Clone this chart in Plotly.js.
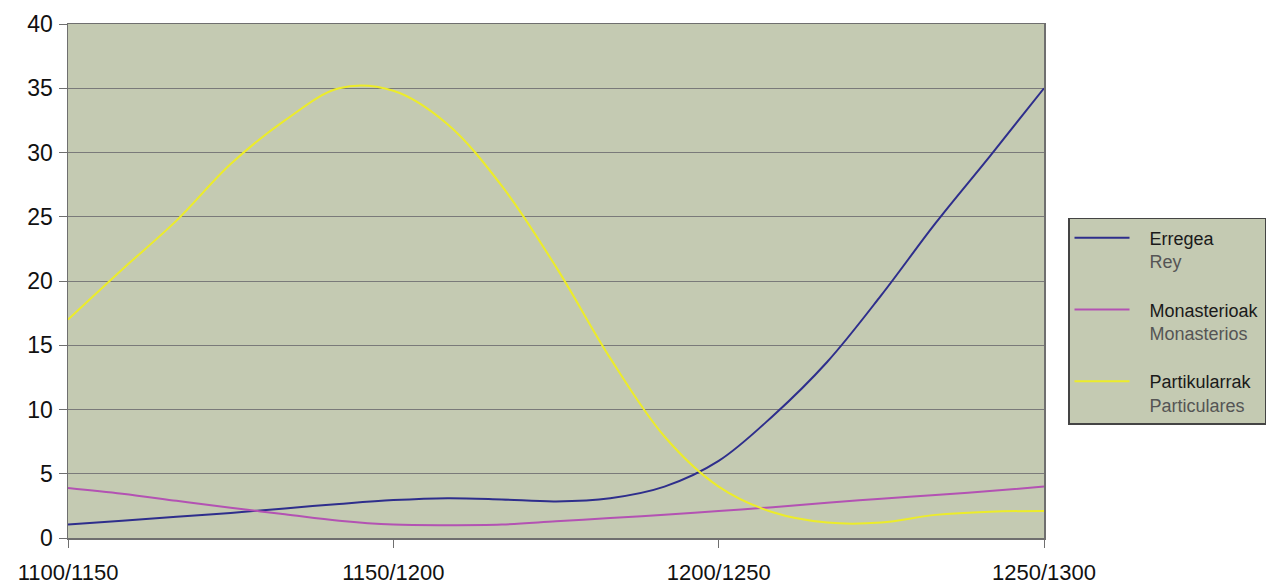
<!DOCTYPE html>
<html>
<head>
<meta charset="utf-8">
<script src="https://cdn.plot.ly/plotly-3.0.1.min.js"></script>
<style>
  html, body { margin: 0; padding: 0; background: #ffffff; }
  #chart { width: 1275px; height: 585px; }
</style>
</head>
<body>
<div id="chart"></div>
<script>
// Period midpoints (years) sampled along each curve
const years = [1125, 1133.33, 1141.67, 1150, 1158.33, 1166.67, 1175, 1183.33, 1191.67, 1200,
               1208.33, 1216.67, 1225, 1233.33, 1241.67, 1250, 1258.33, 1266.67, 1275];
const tickYears = [1125, 1175, 1225, 1275];
const tickLabels = ['1100/1150', '1150/1200', '1200/1250', '1250/1300'];

const erregea =       [1.05, 1.35, 1.65, 1.95, 2.3, 2.65, 2.95, 3.1, 3.0, 2.85,
                       3.1, 4.0, 6.0, 9.5, 13.7, 18.9, 24.5, 29.7, 35.0];
const monasterioak =  [3.9, 3.45, 2.9, 2.35, 1.85, 1.35, 1.05, 1.0, 1.05, 1.3,
                       1.55, 1.8, 2.1, 2.4, 2.75, 3.05, 3.35, 3.65, 4.0];
const partikularrak = [17.0, 20.9, 24.7, 29.1, 32.5, 35.0, 34.8, 32.2, 27.4, 21.1,
                       14.0, 7.9, 4.0, 2.0, 1.2, 1.2, 1.8, 2.05, 2.1];

const namesEu = ['Erregea', 'Monasterioak', 'Partikularrak'];
const namesEs = ['Rey', 'Monasterios', 'Particulares'];
const seriesData = [erregea, monasterioak, partikularrak];
const colors = ['#2e2e8c', '#b352b3', '#ecec2a'];

const pad = '\u00A0\u00A0\u00A0';
const traces = seriesData.map((vals, i) => ({
  type: 'scatter',
  mode: 'lines',
  x: years,
  y: vals,
  name: pad + namesEu[i] + '<br>' + pad + '<span style="color:#555555">' + namesEs[i] + '</span>',
  legendgroup: 'g' + i,
  line: { color: colors[i], width: 2, shape: 'spline', smoothing: 1 },
  hoverinfo: 'skip'
}));

const layout = {
  width: 1275,
  height: 585,
  margin: { l: 68, r: 231, t: 24, b: 47, autoexpand: false },
  paper_bgcolor: '#ffffff',
  plot_bgcolor: '#c4cab2',
  font: { family: 'Liberation Sans, Arial, sans-serif', color: '#111111' },
  showlegend: true,
  legend: {
    x: 1.0246, xanchor: 'left',
    y: 0.6226, yanchor: 'top',
    bgcolor: '#c4cab2',
    bordercolor: '#444444',
    borderwidth: 1.5,
    font: { size: 18, color: '#1a1a1a' },
    tracegroupgap: 22,
    valign: 'top',
    itemwidth: 55
  },
  xaxis: {
    range: [1125, 1275],
    tickmode: 'array',
    tickvals: tickYears,
    ticktext: tickLabels,
    showgrid: false,
    zeroline: false,
    showline: true,
    linecolor: '#6f6f6f',
    linewidth: 1.5,
    mirror: true,
    ticks: 'outside',
    ticklen: 8,
    tickcolor: '#6f6f6f',
    ticklabelstandoff: 6,
    tickfont: { size: 22, color: '#111111' }
  },
  yaxis: {
    range: [0, 40],
    dtick: 5,
    showgrid: true,
    gridcolor: '#7a7a7a',
    gridwidth: 1,
    zeroline: false,
    showline: true,
    linecolor: '#6f6f6f',
    linewidth: 1.5,
    mirror: true,
    ticks: 'outside',
    ticklen: 8,
    tickcolor: '#6f6f6f',
    ticklabelstandoff: 1,
    tickfont: { size: 23, color: '#111111' }
  }
};

Plotly.newPlot('chart', traces, layout, { staticPlot: true, displayModeBar: false });
</script>
</body>
</html>
